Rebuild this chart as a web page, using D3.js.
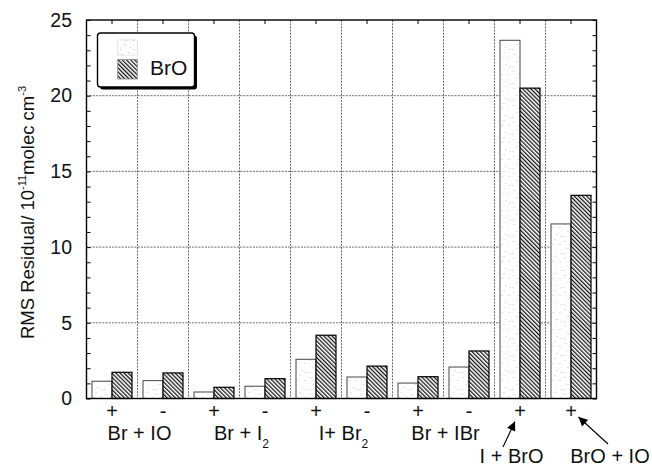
<!DOCTYPE html>
<html>
<head>
<meta charset="utf-8">
<script src="https://cdn.jsdelivr.net/npm/d3@7"></script>
<style>
  body { margin: 0; background: #fff; }
  svg { display: block; font-family: "Liberation Sans", Arial, Helvetica, sans-serif; }
</style>
</head>
<body>
<svg></svg>
<script>
// Data
const signs = ["+", "-", "+", "-", "+", "-", "+", "-", "+", "+"];
const stippleValues = [1.14, 1.18, 0.43, 0.81, 2.59, 1.42, 1.02, 2.08, 23.66, 11.53];
const broValues = [1.73, 1.69, 0.74, 1.31, 4.18, 2.14, 1.44, 3.14, 20.5, 13.42];
const seriesNames = ["", "BrO"];
const pairLabels = [
    { text: "Br + IO", sub: "" },
    { text: "Br + I", sub: "2" },
    { text: "I+ Br", sub: "2" },
    { text: "Br + IBr", sub: "" }
];
const arrowLabels = ["I + BrO", "BrO + IO"];
const yTicks = [0, 5, 10, 15, 20, 25];
const yMinorTicks = d3.range(0, 26);

const width = 652;
const height = 467;
const svg = d3.select("svg")
    .attr("width", width)
    .attr("height", height)
    .attr("viewBox", `0 0 ${width} ${height}`);

const plotLeft = 86.5, plotRight = 596.5, plotTop = 20, plotBottom = 398.5;

const x = d3.scaleBand()
    .domain(d3.range(signs.length))
    .range([plotLeft, plotRight])
    .padding(0);

const xInner = d3.scaleBand()
    .domain([0, 1])
    .range([0, x.bandwidth()])
    .paddingInner(0)
    .paddingOuter(0.275);

const y = d3.scaleLinear()
    .domain([0, 25])
    .range([plotBottom, plotTop]);

// Patterns
const defs = svg.append("defs");

const hatch = defs.append("pattern")
    .attr("id", "hatch")
    .attr("patternUnits", "userSpaceOnUse")
    .attr("width", 2.9)
    .attr("height", 2.9)
    .attr("patternTransform", "rotate(-45)");
hatch.append("rect").attr("width", 2.9).attr("height", 2.9).attr("fill", "#fff");
hatch.append("line")
    .attr("x1", 0.6).attr("y1", 0).attr("x2", 0.6).attr("y2", 2.9)
    .attr("stroke", "#111").attr("stroke-width", 1.3);

// sparse stipple
const stipple = defs.append("pattern")
    .attr("id", "stipple")
    .attr("patternUnits", "userSpaceOnUse")
    .attr("width", 17)
    .attr("height", 17);
stipple.append("rect").attr("width", 17).attr("height", 17).attr("fill", "#fff");
[[2, 3], [9, 1], [14, 6], [5, 10], [11, 13], [1, 15], [7, 6], [15, 15]].forEach(p => {
    stipple.append("rect")
        .attr("x", p[0]).attr("y", p[1])
        .attr("width", 1).attr("height", 1)
        .attr("fill", "#c4c4c4");
});

defs.append("marker")
    .attr("id", "arrowhead")
    .attr("viewBox", "0 0 10 10")
    .attr("refX", 10).attr("refY", 5)
    .attr("markerUnits", "userSpaceOnUse")
    .attr("markerWidth", 12).attr("markerHeight", 9)
    .attr("orient", "auto")
    .append("path")
    .attr("d", "M0,0 L10,5 L0,10 Z")
    .attr("fill", "#000");

// Grid
const grid = svg.append("g")
    .attr("stroke", "#444")
    .attr("stroke-width", 0.8)
    .attr("stroke-dasharray", "2,1.2");

grid.selectAll("line.h")
    .data(yTicks.filter(t => t > 0 && t < 25))
    .enter().append("line")
    .attr("class", "h")
    .attr("x1", plotLeft).attr("x2", plotRight)
    .attr("y1", d => y(d)).attr("y2", d => y(d));

grid.selectAll("line.v")
    .data(d3.range(1, signs.length))
    .enter().append("line")
    .attr("class", "v")
    .attr("x1", d => x(d)).attr("x2", d => x(d))
    .attr("y1", plotTop).attr("y2", plotBottom);

// Bars
const groups = svg.append("g")
    .selectAll("g")
    .data(signs.map((s, i) => ({ i, values: [stippleValues[i], broValues[i]] })))
    .enter().append("g")
    .attr("transform", d => `translate(${x(d.i)},0)`);

groups.selectAll("rect")
    .data(d => d.values.map((v, k) => ({ k, v })))
    .enter().append("rect")
    .attr("x", d => xInner(d.k))
    .attr("width", xInner.bandwidth())
    .attr("y", d => y(d.v))
    .attr("height", d => y(0) - y(d.v))
    .attr("fill", d => d.k === 0 ? "url(#stipple)" : "url(#hatch)")
    .attr("stroke", d => d.k === 0 ? "#444" : "#000")
    .attr("stroke-width", d => d.k === 0 ? 1 : 1.2);

// Axes: minor ticks inside the frame
svg.append("g")
    .attr("transform", `translate(${plotLeft},0)`)
    .call(d3.axisLeft(y).tickValues(yMinorTicks).tickSize(-4).tickFormat(""))
    .call(g => g.select(".domain").remove())
    .call(g => g.selectAll("line").attr("stroke-width", 1));

svg.append("g")
    .attr("transform", `translate(${plotRight},0)`)
    .call(d3.axisRight(y).tickValues(yMinorTicks).tickSize(-4).tickFormat(""))
    .call(g => g.select(".domain").remove())
    .call(g => g.selectAll("line").attr("stroke-width", 1));

svg.append("g")
    .attr("transform", `translate(0,${plotTop})`)
    .call(d3.axisTop(x).tickSize(-4).tickFormat(""))
    .call(g => g.select(".domain").remove())
    .call(g => g.selectAll("line").attr("stroke-width", 1));

// Y tick labels
svg.append("g")
    .attr("transform", `translate(${plotLeft},0)`)
    .call(d3.axisLeft(y).tickValues(yTicks).tickSize(0).tickPadding(14.5))
    .call(g => g.select(".domain").remove())
    .call(g => g.selectAll("text")
        .attr("font-size", 19.5)
        .attr("font-family", "'Liberation Sans', Arial, sans-serif")
        .attr("fill", "#111"));

// Frame
svg.append("rect")
    .attr("x", plotLeft).attr("y", plotTop)
    .attr("width", plotRight - plotLeft).attr("height", plotBottom - plotTop)
    .attr("fill", "none")
    .attr("stroke", "#000")
    .attr("stroke-width", 1.4);

// X sign labels
svg.append("g")
    .selectAll("text")
    .data(signs)
    .enter().append("text")
    .attr("x", (d, i) => x(i) + x.bandwidth() / 2)
    .attr("y", 418)
    .attr("text-anchor", "middle")
    .attr("font-size", 20)
    .attr("fill", "#111")
    .text(d => d);

// Reaction labels under pairs of groups
const pl = svg.append("g")
    .selectAll("text")
    .data(pairLabels)
    .enter().append("text")
    .attr("x", (d, i) => x(2 * i + 1) + 2)
    .attr("y", 440)
    .attr("text-anchor", "middle")
    .attr("font-size", 20)
    .attr("fill", "#111");
pl.append("tspan").text(d => d.text);
pl.filter(d => d.sub).append("tspan")
    .attr("font-size", 12)
    .attr("dy", 7.5)
    .text(d => d.sub);

// Labels with arrows for the last two groups
const c8 = x(8) + x.bandwidth() / 2;
const c9 = x(9) + x.bandwidth() / 2;
const arrows = [
    { label: arrowLabels[0], tx: c8 - 8.5, x1: c8 - 17, y1: 447, x2: c8 - 5, y2: 421.5 },
    { label: arrowLabels[1], tx: c9 + 39, x1: c9 + 37, y1: 444, x2: c9 + 7.5, y2: 417 }
];

svg.append("g")
    .selectAll("line")
    .data(arrows)
    .enter().append("line")
    .attr("x1", d => d.x1).attr("y1", d => d.y1)
    .attr("x2", d => d.x2).attr("y2", d => d.y2)
    .attr("stroke", "#000")
    .attr("stroke-width", 1.1)
    .attr("marker-end", "url(#arrowhead)");

svg.append("g")
    .selectAll("text")
    .data(arrows)
    .enter().append("text")
    .attr("x", d => d.tx)
    .attr("y", 463)
    .attr("text-anchor", "middle")
    .attr("font-size", 20)
    .attr("fill", "#111")
    .text(d => d.label);

// Y axis title
const yTitle = svg.append("text")
    .attr("transform", `translate(34,212.5) rotate(-90)`)
    .attr("text-anchor", "middle")
    .attr("font-size", 18.5)
    .attr("fill", "#111");
yTitle.append("tspan").text("RMS Residual/ 10");
yTitle.append("tspan").attr("font-size", 11).attr("dy", -8.5).text("-11");
yTitle.append("tspan").attr("dy", 8.5).text("molec cm");
yTitle.append("tspan").attr("font-size", 11).attr("dy", -8.5).text("-3");

// Legend
const legend = svg.append("g");
legend.append("rect")
    .attr("x", 100).attr("y", 35.5)
    .attr("width", 97).attr("height", 54)
    .attr("rx", 3)
    .attr("fill", "#000");
legend.append("rect")
    .attr("x", 97.5).attr("y", 33)
    .attr("width", 97).attr("height", 54)
    .attr("rx", 3)
    .attr("fill", "#fff")
    .attr("stroke", "#000")
    .attr("stroke-width", 1.4);

const swatches = [
    { name: seriesNames[0], fill: "url(#stipple)", stroke: "#ddd", y: 40, h: 15 },
    { name: seriesNames[1], fill: "url(#hatch)", stroke: "#888", y: 59.5, h: 19.5 }
];
legend.selectAll("rect.sw")
    .data(swatches)
    .enter().append("rect")
    .attr("class", "sw")
    .attr("x", 117.7).attr("y", d => d.y)
    .attr("width", 19.6).attr("height", d => d.h)
    .attr("fill", d => d.fill)
    .attr("stroke", d => d.stroke)
    .attr("stroke-width", 0.8);
legend.selectAll("text")
    .data(swatches.filter(d => d.name))
    .enter().append("text")
    .attr("x", 150)
    .attr("y", d => d.y + d.h - 4)
    .attr("font-size", 21)
    .attr("fill", "#111")
    .text(d => d.name);
</script>
</body>
</html>
